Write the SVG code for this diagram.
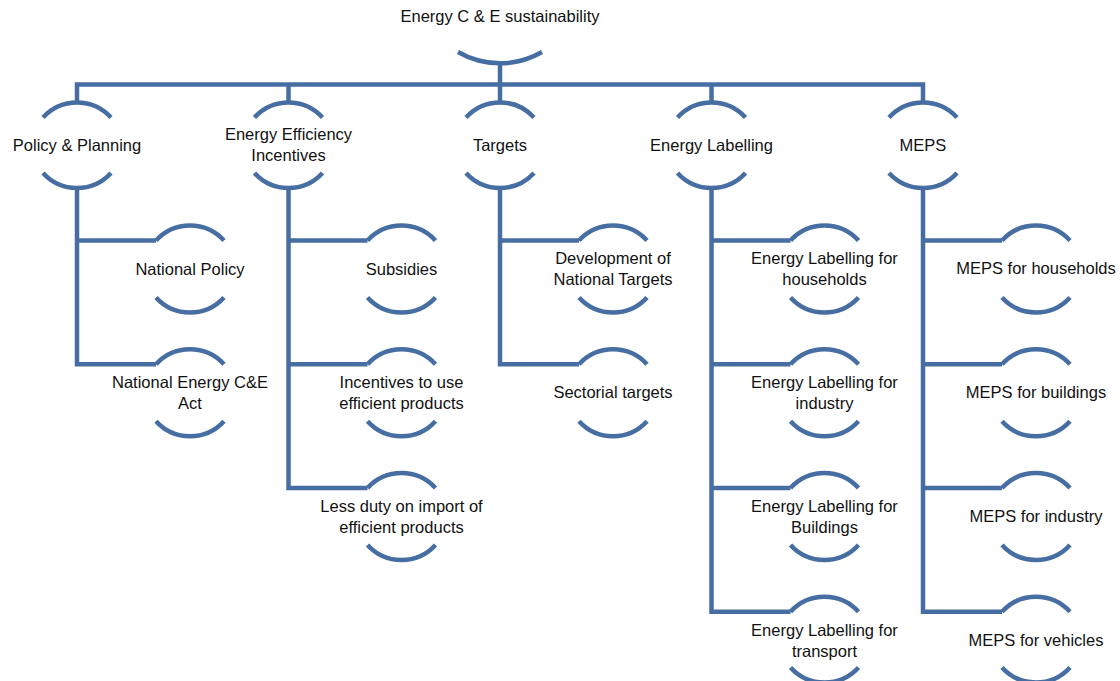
<svg xmlns="http://www.w3.org/2000/svg" width="1120" height="681" viewBox="0 0 1120 681">
<style>
.ln{fill:none;stroke:#466EA2;stroke-width:4.5;stroke-linejoin:miter;stroke-linecap:butt}
.t{font-family:"Liberation Sans",Arial,sans-serif;font-size:16.5px;fill:#111;text-anchor:middle}
</style>
<rect width="1120" height="681" fill="#fff"/>
<g id="connectors">
<path class="ln" d="M500,62 V84.5"/>
<path class="ln" d="M77,102.5 V84.5 H923 V102.5 M288.5,84.5 V102.5 M500,84.5 V102.5 M711.5,84.5 V102.5"/>
<path class="ln" d="M77,188 V364.3 H156 M77,240.5 H156"/>
<path class="ln" d="M288.5,188 V488 H367.5 M288.5,240.5 H367.5 M288.5,364.3 H367.5"/>
<path class="ln" d="M500,188 V364.3 H579 M500,240.5 H579"/>
<path class="ln" d="M711.5,188 V611.8 H790.5 M711.5,240.5 H790.5 M711.5,364.3 H790.5 M711.5,488 H790.5"/>
<path class="ln" d="M923,188 V611.8 H1002 M923,240.5 H1002 M923,364.3 H1002 M923,488 H1002"/>
</g>
<g id="root">
<path class="ln" d="M458,52 A84,84 0 0 0 542,52"/>
<text class="t" x="500" y="22">Energy C &amp; E sustainability</text>
</g>
<g id="policy">
<path class="ln" d="M43,117.5 A46,46 0 0 1 111,117.5"/>
<path class="ln" d="M43,173 A46,46 0 0 0 111,173"/>
<text class="t" x="77" y="151">Policy &amp; Planning</text>
</g>
<g id="ee">
<path class="ln" d="M254.5,117.5 A46,46 0 0 1 322.5,117.5"/>
<path class="ln" d="M254.5,173 A46,46 0 0 0 322.5,173"/>
<text class="t" x="288.5" y="140">Energy Efficiency</text>
<text class="t" x="288.5" y="161">Incentives</text>
</g>
<g id="targets">
<path class="ln" d="M466,117.5 A46,46 0 0 1 534,117.5"/>
<path class="ln" d="M466,173 A46,46 0 0 0 534,173"/>
<text class="t" x="500" y="151">Targets</text>
</g>
<g id="labelling">
<path class="ln" d="M677.5,117.5 A46,46 0 0 1 745.5,117.5"/>
<path class="ln" d="M677.5,173 A46,46 0 0 0 745.5,173"/>
<text class="t" x="711.5" y="151">Energy Labelling</text>
</g>
<g id="meps">
<path class="ln" d="M889,117.5 A46,46 0 0 1 957,117.5"/>
<path class="ln" d="M889,173 A46,46 0 0 0 957,173"/>
<text class="t" x="923" y="151">MEPS</text>
</g>
<g id="national-policy">
<path class="ln" d="M156,240.5 A46,46 0 0 1 224,240.5"/>
<path class="ln" d="M156,297.5 A46,46 0 0 0 224,297.5"/>
<text class="t" x="190" y="274.5">National Policy</text>
</g>
<g id="national-act">
<path class="ln" d="M156,364.3 A46,46 0 0 1 224,364.3"/>
<path class="ln" d="M156,421.3 A46,46 0 0 0 224,421.3"/>
<text class="t" x="190" y="387.5">National Energy C&amp;E</text>
<text class="t" x="190" y="408.5">Act</text>
</g>
<g id="subsidies">
<path class="ln" d="M367.5,240.5 A46,46 0 0 1 435.5,240.5"/>
<path class="ln" d="M367.5,297.5 A46,46 0 0 0 435.5,297.5"/>
<text class="t" x="401.5" y="274.5">Subsidies</text>
</g>
<g id="incentives-use">
<path class="ln" d="M367.5,364.3 A46,46 0 0 1 435.5,364.3"/>
<path class="ln" d="M367.5,421.3 A46,46 0 0 0 435.5,421.3"/>
<text class="t" x="401.5" y="387.5">Incentives to use</text>
<text class="t" x="401.5" y="408.5">efficient products</text>
</g>
<g id="less-duty">
<path class="ln" d="M367.5,488 A46,46 0 0 1 435.5,488"/>
<path class="ln" d="M367.5,545 A46,46 0 0 0 435.5,545"/>
<text class="t" x="401.5" y="511.5">Less duty on import of</text>
<text class="t" x="401.5" y="532.5">efficient products</text>
</g>
<g id="dev-targets">
<path class="ln" d="M579,240.5 A46,46 0 0 1 647,240.5"/>
<path class="ln" d="M579,297.5 A46,46 0 0 0 647,297.5"/>
<text class="t" x="613" y="263.5">Development of</text>
<text class="t" x="613" y="284.5">National Targets</text>
</g>
<g id="sectorial">
<path class="ln" d="M579,364.3 A46,46 0 0 1 647,364.3"/>
<path class="ln" d="M579,421.3 A46,46 0 0 0 647,421.3"/>
<text class="t" x="613" y="398.3">Sectorial targets</text>
</g>
<g id="el-households">
<path class="ln" d="M790.5,240.5 A46,46 0 0 1 858.5,240.5"/>
<path class="ln" d="M790.5,297.5 A46,46 0 0 0 858.5,297.5"/>
<text class="t" x="824.5" y="263.5">Energy Labelling for</text>
<text class="t" x="824.5" y="284.5">households</text>
</g>
<g id="el-industry">
<path class="ln" d="M790.5,364.3 A46,46 0 0 1 858.5,364.3"/>
<path class="ln" d="M790.5,421.3 A46,46 0 0 0 858.5,421.3"/>
<text class="t" x="824.5" y="387.5">Energy Labelling for</text>
<text class="t" x="824.5" y="408.5">industry</text>
</g>
<g id="el-buildings">
<path class="ln" d="M790.5,488 A46,46 0 0 1 858.5,488"/>
<path class="ln" d="M790.5,545 A46,46 0 0 0 858.5,545"/>
<text class="t" x="824.5" y="511.5">Energy Labelling for</text>
<text class="t" x="824.5" y="532.5">Buildings</text>
</g>
<g id="el-transport">
<path class="ln" d="M790.5,611.8 A46,46 0 0 1 858.5,611.8"/>
<path class="ln" d="M790.5,667.5 A46,46 0 0 0 858.5,667.5"/>
<text class="t" x="824.5" y="635.5">Energy Labelling for</text>
<text class="t" x="824.5" y="656.5">transport</text>
</g>
<g id="meps-households">
<path class="ln" d="M1002,240.5 A46,46 0 0 1 1070,240.5"/>
<path class="ln" d="M1002,297.5 A46,46 0 0 0 1070,297.5"/>
<text class="t" x="1036" y="274">MEPS for households</text>
</g>
<g id="meps-buildings">
<path class="ln" d="M1002,364.3 A46,46 0 0 1 1070,364.3"/>
<path class="ln" d="M1002,421.3 A46,46 0 0 0 1070,421.3"/>
<text class="t" x="1036" y="398">MEPS for buildings</text>
</g>
<g id="meps-industry">
<path class="ln" d="M1002,488 A46,46 0 0 1 1070,488"/>
<path class="ln" d="M1002,545 A46,46 0 0 0 1070,545"/>
<text class="t" x="1036" y="522">MEPS for industry</text>
</g>
<g id="meps-vehicles">
<path class="ln" d="M1002,611.8 A46,46 0 0 1 1070,611.8"/>
<path class="ln" d="M1002,667.5 A46,46 0 0 0 1070,667.5"/>
<text class="t" x="1036" y="646">MEPS for vehicles</text>
</g>
</svg>
